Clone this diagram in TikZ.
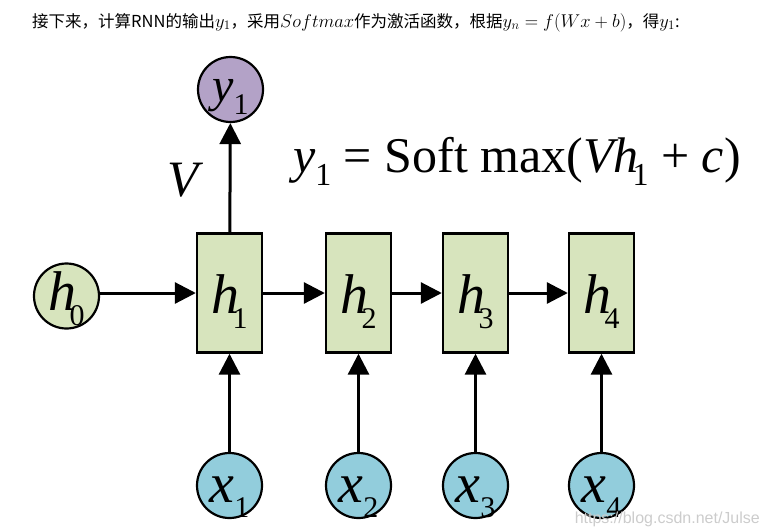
\RequirePackage{fix-cm}
\documentclass[tikz,border=0pt]{standalone}
\usepackage[no-math]{fontspec}
\newfontfamily\cjk{Noto Sans CJK SC}
\newfontfamily\tms{Liberation Serif}
\newfontfamily\wmfont{Liberation Sans}
\usepackage{xcolor}
\usepackage{tikz}
\usetikzlibrary{arrows.meta,positioning}

\definecolor{cellgreen}{RGB}{215,228,189}
\definecolor{inblue}{RGB}{146,205,220}
\definecolor{outpurple}{RGB}{179,162,199}

% math of the intro line, a bit larger than the text
\newcommand{\km}[1]{{\fontsize{18.5}{20}\selectfont$#1$}}
% lowered index digit
\newcommand{\lsub}[2][30]{\raisebox{-0.27em}{\fontsize{#1}{#1}\selectfont #2}}
% node label: letter, index, kern, shift of baseline
\newcommand{\nlbl}[4]{\makebox[0pt]{\raisebox{#4}[0pt][0pt]{\textit{#1}\kern#3\lsub{#2}}}}

\begin{document}
\begin{tikzpicture}[x=1pt, y=-1pt,
  cell/.style={draw, line width=2.4pt, fill=cellgreen, minimum width=65pt, minimum height=119pt, inner sep=0pt},
  unit/.style={draw, circle, line width=2.2pt, minimum size=65pt, inner sep=0pt},
  arr/.style={-{Triangle[length=21pt, width=21pt]}, line width=3pt},
  big/.style={font=\tms\fontsize{56}{60}\selectfont}
]
\useasboundingbox (0,0) rectangle (767,530);
\node[anchor=base west, inner sep=0pt, font=\cjk\fontsize{16.5}{18}\selectfont] (intro) at (32,27) {接下来，计算RNN的输出\km{y_1}，采用\km{Softmax}作为激活函数，根据\km{y_n=f(Wx+b)}，得\km{y_1}:};
\node[unit, fill=outpurple, font=\tms\fontsize{48}{52}\selectfont] (y1) at (230.5,89.5) {\nlbl{y}{1}{0pt}{-12pt}};
\node[font=\tms\itshape\fontsize{51}{55}\selectfont] (vlbl) at (183,180) {V};
\node[anchor=base west, inner sep=0pt, font=\tms\fontsize{50}{56}\selectfont] (softmax) at (293,172) {\textit{y}\lsub[32]{1} = Soft max(\textit{Vh}\kern-0.12em\lsub[32]{1} + \textit{c})};
\node[unit, fill=cellgreen, big] (h0) at (66.5,296) {\nlbl{h}{0}{-0.12em}{-14pt}};
\node[cell, big] (h1) at (229.5,293) {\nlbl{h}{1}{-0.12em}{-20pt}};
\node[cell, big] (h2) at (358.5,293) {\nlbl{h}{2}{-0.12em}{-20pt}};
\node[cell, big] (h3) at (475.5,293) {\nlbl{h}{3}{-0.12em}{-20pt}};
\node[cell, big] (h4) at (601.5,293) {\nlbl{h}{4}{-0.12em}{-20pt}};
\node[unit, fill=inblue, big] (x1) at (229.5,485.5) {\nlbl{x}{1}{0pt}{-17pt}};
\node[unit, fill=inblue, big] (x2) at (358.5,485.5) {\nlbl{x}{2}{0pt}{-17pt}};
\node[unit, fill=inblue, big] (x3) at (475.5,485.5) {\nlbl{x}{3}{0pt}{-17pt}};
\node[unit, fill=inblue, big] (x4) at (601.5,485.5) {\nlbl{x}{4}{0pt}{-17pt}};
\node[anchor=base east, inner sep=0pt, text=black!20, font=\wmfont\fontsize{16}{18}\selectfont] (wm) at (760,523) {https://blog.csdn.net/Julse};
\draw[arr] (h0.east |- h1) -- (h1); \draw[arr] (h1) -- (h2); \draw[arr] (h2) -- (h3); \draw[arr] (h3) -- (h4);
\draw[arr] (h1) -- (y1);
\draw[arr] (x1) -- (h1); \draw[arr] (x2) -- (h2); \draw[arr] (x3) -- (h3); \draw[arr] (x4) -- (h4);
\end{tikzpicture}
\end{document}
